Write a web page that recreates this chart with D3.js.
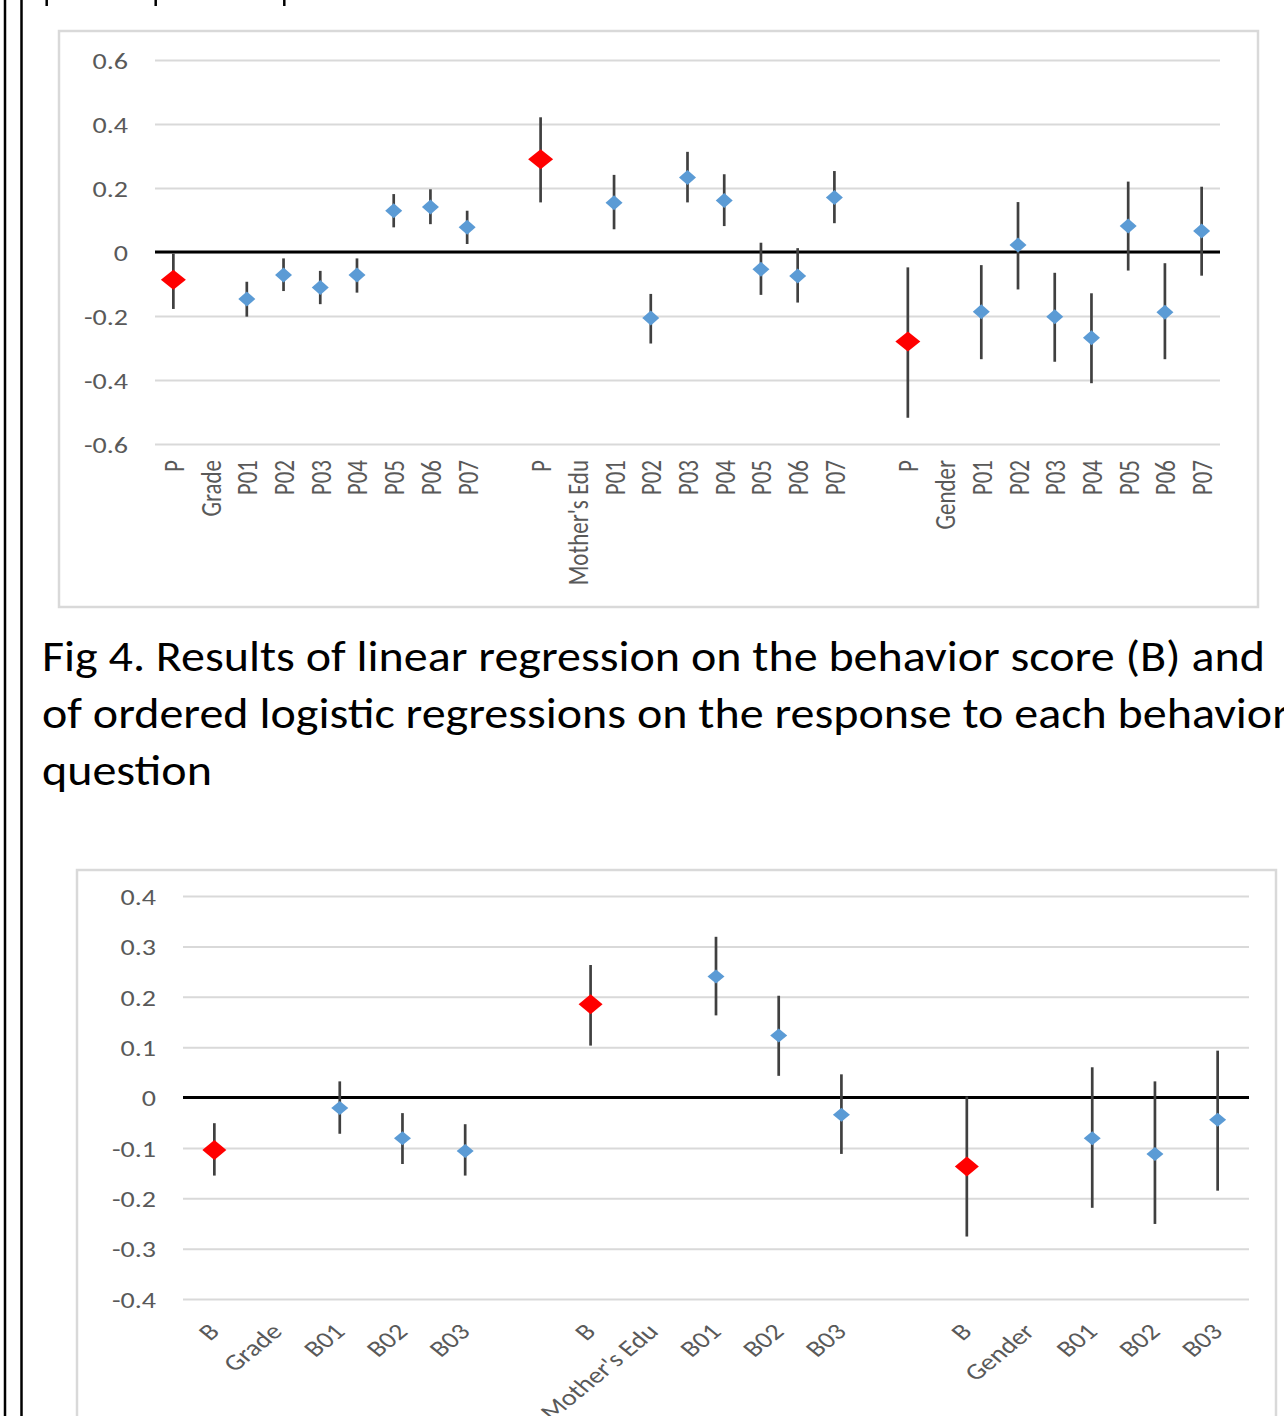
<!DOCTYPE html>
<html>
<head>
<meta charset="utf-8">
<script src="https://cdn.jsdelivr.net/npm/d3@7"></script>
<style>
html,body{margin:0;padding:0;background:#fff;overflow:hidden}
</style>
</head>
<body>
<svg id="c" width="1284" height="1416"></svg>
<script>
// ---------- DATA ----------
// Chart 1 (top): P = overall score, P01..P07 = individual questions
const cats1 = ["P","Grade","P01","P02","P03","P04","P05","P06","P07","",
               "P","Mother's Edu","P01","P02","P03","P04","P05","P06","P07","",
               "P","Gender","P01","P02","P03","P04","P05","P06","P07"];
const est1 = [-0.087,null,-0.147,-0.072,-0.111,-0.072,0.129,0.141,0.077,null,
              0.290,null,0.154,-0.206,0.233,0.161,-0.054,-0.075,0.170,null,
              -0.280,null,-0.187,0.022,-0.202,-0.268,0.081,-0.188,0.066];
const hi1  = [-0.005,null,-0.093,-0.020,-0.059,-0.020,0.181,0.196,0.129,null,
              0.421,null,0.241,-0.131,0.313,0.243,0.029,0.012,0.253,null,
              -0.048,null,-0.041,0.156,-0.065,-0.129,0.220,-0.035,0.204];
const lo1  = [-0.178,null,-0.202,-0.122,-0.163,-0.127,0.077,0.087,0.025,null,
              0.155,null,0.071,-0.286,0.155,0.081,-0.134,-0.158,0.090,null,
              -0.518,null,-0.335,-0.117,-0.343,-0.410,-0.058,-0.335,-0.074];
const summaryLabel1 = "P";
const yTicks1 = [0.6,0.4,0.2,0,-0.2,-0.4,-0.6];
const yTickLabels1 = ["0.6","0.4","0.2","0","-0.2","-0.4","-0.6"];

// Chart 2 (bottom): B = behavior score, B01..B03 = individual questions
const cats2 = ["B","Grade","B01","B02","B03","",
               "B","Mother's Edu","B01","B02","B03","",
               "B","Gender","B01","B02","B03"];
const est2 = [-0.104,null,-0.021,-0.081,-0.106,null,
              0.185,null,0.240,0.123,-0.034,null,
              -0.137,null,-0.081,-0.112,-0.044];
const hi2  = [-0.051,null,0.032,-0.031,-0.053,null,
              0.263,null,0.319,0.202,0.046,null,
              0.002,null,0.060,0.032,0.093];
const lo2  = [-0.155,null,-0.072,-0.132,-0.155,null,
              0.103,null,0.163,0.043,-0.112,null,
              -0.276,null,-0.219,-0.251,-0.185];
const summaryLabel2 = "B";
const yTicks2 = [0.4,0.3,0.2,0.1,0,-0.1,-0.2,-0.3,-0.4];
const yTickLabels2 = ["0.4","0.3","0.2","0.1","0","-0.1","-0.2","-0.3","-0.4"];

const captionLines = [
  "Fig 4. Results of linear regression on the behavior score (B) and",
  "of ordered logistic regressions on the response to each behavior",
  "question"
];

// ---------- DRAWING ----------
const svg = d3.select("#c");
const FONT = "Carlito, Lato, 'Open Sans', sans-serif";
const SX = 1.22; // horizontal stretch of the embedded chart images

// page frame (double rule on the left) and cut-off text descenders at the top
[5, 21.5].forEach(xx => svg.append("line")
  .attr("x1", xx).attr("x2", xx).attr("y1", 0).attr("y2", 1416)
  .attr("stroke", "#000").attr("stroke-width", 2.5));
[46.7, 155.7, 284.3].forEach(xx => svg.append("line")
  .attr("x1", xx).attr("x2", xx).attr("y1", 0).attr("y2", 6)
  .attr("stroke", "#000").attr("stroke-width", 2.5));

function drawChart(o) {
  const g = svg.append("g");
  g.append("rect")
    .attr("x", o.box[0]).attr("y", o.box[1]).attr("width", o.box[2]).attr("height", o.box[3])
    .attr("fill", "#fff").attr("stroke", "#d9d9d9").attr("stroke-width", 2.5);

  const x = d3.scalePoint().domain(d3.range(o.cats.length)).range([o.px0, o.px1]).padding(0.5);
  const y = d3.scaleLinear().domain(o.domain).range([o.py0, o.py1]);

  // y axis + gridlines
  const ya = g.append("g").attr("transform", `translate(${o.px0},0)`)
    .call(d3.axisLeft(y).tickValues(o.yTicks).tickFormat((d, i) => o.yLabels[i])
      .tickSize(-(o.px1 - o.px0)).tickPadding(0));
  ya.select(".domain").remove();
  ya.selectAll("line").attr("stroke", "#d9d9d9").attr("stroke-width", 2);
  ya.selectAll("text")
    .attr("x", 0).attr("dy", "0.36em").attr("text-anchor", "end")
    .attr("fill", "#595959").attr("font-family", FONT).attr("font-size", o.fs)
    .attr("transform", `translate(${-o.ylabGap},0) scale(${SX},1)`);

  // zero line
  g.append("line").attr("x1", o.px0).attr("x2", o.px1)
    .attr("y1", y(0)).attr("y2", y(0))
    .attr("stroke", "#000").attr("stroke-width", 3);

  // category axis labels
  const xa = g.append("g").attr("transform", `translate(0,${o.labY})`)
    .call(d3.axisBottom(x).tickFormat(i => o.cats[i]).tickSize(0).tickPadding(0));
  xa.select(".domain").remove();
  xa.selectAll("text")
    .attr("x", 0).attr("y", 0).attr("dy", 0).attr("text-anchor", "end")
    .attr("fill", "#595959").attr("font-family", FONT).attr("font-size", o.fs)
    .attr("transform", o.labTransform);

  const data = o.cats.map((c, i) => ({i, c, est: o.est[i], lo: o.lo[i], hi: o.hi[i], sum: c === o.sumLabel}))
    .filter(d => d.est != null);

  g.append("g").selectAll("line").data(data).join("line")
    .attr("x1", d => x(d.i)).attr("x2", d => x(d.i))
    .attr("y1", d => y(d.hi)).attr("y2", d => y(d.lo))
    .attr("stroke", "#404040").attr("stroke-width", 2.7);

  g.append("g").selectAll("path").data(data).join("path")
    .attr("d", d => {
      const [hw, hh] = d.sum ? o.redSize : o.blueSize;
      return `M0,${-hh}L${hw},0L0,${hh}L${-hw},0Z`;
    })
    .attr("transform", d => `translate(${x(d.i)},${y(d.est)})`)
    .attr("fill", d => d.sum ? "#ff0000" : "#5b9bd5");
}

drawChart({
  box: [59, 31, 1199, 576],
  px0: 155, px1: 1220, py0: 444, py1: 60, domain: [-0.6, 0.6],
  yTicks: yTicks1, yLabels: yTickLabels1, ylabGap: 27, fs: 23,
  cats: cats1, est: est1, lo: lo1, hi: hi1, sumLabel: summaryLabel1,
  labY: 460, labTransform: `translate(10,0) scale(${SX},1) rotate(-90)`,
  redSize: [12.5, 10], blueSize: [8.5, 7.5]
});

drawChart({
  box: [77, 870, 1199, 620],
  px0: 183, px1: 1249, py0: 1299, py1: 896, domain: [-0.4, 0.4],
  yTicks: yTicks2, yLabels: yTickLabels2, ylabGap: 27, fs: 23,
  cats: cats2, est: est2, lo: lo2, hi: hi2, sumLabel: summaryLabel2,
  labY: 1333, labTransform: `translate(6,0) scale(${SX},1) rotate(-45)`,
  redSize: [12, 10], blueSize: [8.5, 7]
});

// caption
const capT = svg.append("g").selectAll("text").data(captionLines).join("text")
  .attr("x", 42).attr("y", (d, i) => 671 + i * 57)
  .attr("fill", "#000").attr("font-family", FONT).attr("font-size", 43)
  .text(d => d);
const k = 1223 / capT.node().getComputedTextLength();
capT.each(function () {
  const w = this.getComputedTextLength();
  d3.select(this).attr("textLength", w * k).attr("lengthAdjust", "spacingAndGlyphs");
});
</script>
</body>
</html>
